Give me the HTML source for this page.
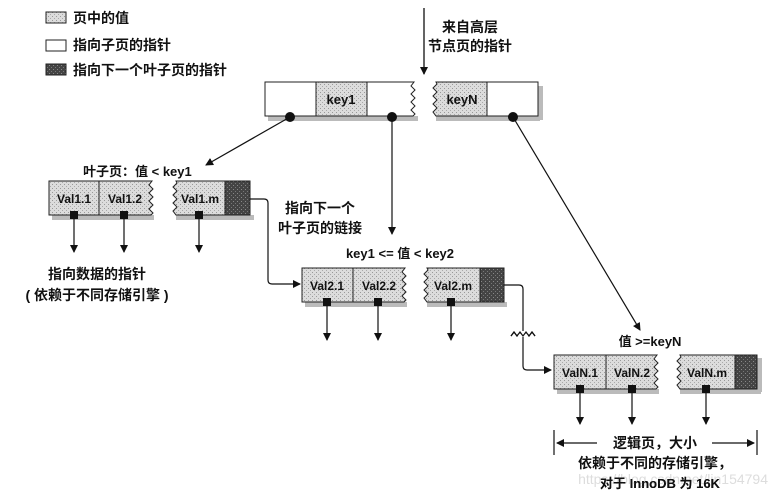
<!DOCTYPE html>
<html><head><meta charset="utf-8"><style>
html,body{margin:0;padding:0;background:#fff;}
svg{display:block;}
text{font-family:"Liberation Sans","Noto Sans CJK SC",sans-serif;font-weight:bold;fill:#111;}
</style></head><body>
<svg width="771" height="496" viewBox="0 0 771 496" xmlns="http://www.w3.org/2000/svg">
<defs>
<pattern id="g" width="4" height="4" patternUnits="userSpaceOnUse"><rect width="4" height="4" fill="#dcdcdc"/><rect x="0" y="0" width="1" height="1" fill="#999"/><rect x="2" y="2" width="1" height="1" fill="#aaa"/></pattern>
<pattern id="d" width="4" height="4" patternUnits="userSpaceOnUse"><rect width="4" height="4" fill="#444"/><rect x="1" y="1" width="1" height="1" fill="#888"/><rect x="3" y="3" width="1" height="1" fill="#777"/></pattern>
<marker id="a" markerWidth="8" markerHeight="8" refX="7" refY="4" orient="auto" markerUnits="userSpaceOnUse"><path d="M0,0 L8,4 L0,8 z" fill="#111"/></marker>
</defs>
<!-- legend -->
<rect x="46" y="12" width="20" height="11" fill="url(#g)" stroke="#222"/>
<rect x="46" y="40" width="20" height="11" fill="#fff" stroke="#222"/>
<rect x="46" y="64" width="20" height="11" fill="url(#d)" stroke="#222"/>
<text x="73" y="23" font-size="14">页中的值</text>
<text x="73" y="50" font-size="14">指向子页的指针</text>
<text x="73" y="75" font-size="14">指向下一个叶子页的指针</text>
<!-- top arrow -->
<line x1="424" y1="8" x2="424" y2="74" stroke="#111" stroke-width="1.3" marker-end="url(#a)"/>
<text x="470" y="32" font-size="14" text-anchor="middle">来自高层</text>
<text x="470" y="51" font-size="14" text-anchor="middle">节点页的指针</text>
<!-- root -->
<rect x="268" y="116" width="150" height="5" fill="#bbb"/><rect x="436" y="116" width="104" height="5" fill="#bbb"/><rect x="538" y="86" width="5" height="34" fill="#bbb"/>
<rect x="265" y="82" width="51" height="34" fill="#fff" stroke="#222"/>
<rect x="316" y="82" width="51" height="34" fill="url(#g)" stroke="#222"/>
<path d="M367,82 H414 l-3,4 4,4 -4,4 4,4 -4,4 4,4 -4,4 4,4 -2,2 H367 z" fill="#fff" stroke="#222"/>
<path d="M436,82 H487 V116 H436 l-3,-4 4,-4 -4,-4 4,-4 -4,-4 4,-4 -4,-4 4,-4 z" fill="url(#g)" stroke="#222"/>
<rect x="487" y="82" width="51" height="34" fill="#fff" stroke="#222"/>
<text x="341" y="104" font-size="13" text-anchor="middle">key1</text>
<text x="462" y="104" font-size="13" text-anchor="middle">keyN</text>
<circle cx="290" cy="117" r="5" fill="#111"/><circle cx="392" cy="117" r="5" fill="#111"/><circle cx="513" cy="117" r="5" fill="#111"/>
<line x1="290" y1="117" x2="206" y2="165" stroke="#111" stroke-width="1.2" marker-end="url(#a)"/>
<line x1="392" y1="117" x2="392" y2="234" stroke="#111" stroke-width="1.2" marker-end="url(#a)"/>
<line x1="513" y1="117" x2="640" y2="330" stroke="#111" stroke-width="1.2" marker-end="url(#a)"/>
<!-- leaf1 -->
<text x="83" y="176" font-size="13">叶子页：值 &lt; key1</text>
<rect x="52" y="215" width="102" height="5" fill="#bbb"/><rect x="176" y="215" width="78" height="5" fill="#bbb"/>
<rect x="49" y="181" width="50" height="34" fill="url(#g)" stroke="#222"/>
<path d="M99,181 H152 l-3,4 4,4 -4,4 4,4 -4,4 4,4 -4,4 4,4 -2,2 H99 z" fill="url(#g)" stroke="#222"/>
<path d="M176,181 H225 V215 H176 l-3,-4 4,-4 -4,-4 4,-4 -4,-4 4,-4 -4,-4 4,-4 z" fill="url(#g)" stroke="#222"/>
<rect x="225" y="181" width="25" height="34" fill="url(#d)" stroke="#222"/>
<text x="74" y="203" font-size="12" text-anchor="middle">Val1.1</text>
<text x="125" y="203" font-size="12" text-anchor="middle">Val1.2</text>
<text x="200" y="203" font-size="12" text-anchor="middle">Val1.m</text>
<g fill="#111"><rect x="70" y="211" width="8" height="8"/><rect x="120" y="211" width="8" height="8"/><rect x="195" y="211" width="8" height="8"/></g>
<g stroke="#111" stroke-width="1.2"><line x1="74" y1="219" x2="74" y2="252" marker-end="url(#a)"/><line x1="124" y1="219" x2="124" y2="252" marker-end="url(#a)"/><line x1="199" y1="219" x2="199" y2="252" marker-end="url(#a)"/></g>
<text x="97" y="279" font-size="14" text-anchor="middle">指向数据的指针</text>
<text x="97" y="300" font-size="14" text-anchor="middle">( 依赖于不同存储引擎 )</text>
<path d="M250,199 H264 q4,0 4,4 V280 q0,4 4,4 H300" fill="none" stroke="#111" stroke-width="1.2" marker-end="url(#a)"/>
<text x="285" y="213" font-size="14">指向下一个</text>
<text x="278" y="233" font-size="14">叶子页的链接</text>
<!-- leaf2 -->
<text x="400" y="258" font-size="13" text-anchor="middle">key1 &lt;= 值 &lt; key2</text>
<rect x="305" y="302" width="102" height="5" fill="#bbb"/><rect x="427" y="302" width="80" height="5" fill="#bbb"/>
<rect x="302" y="268" width="51" height="34" fill="url(#g)" stroke="#222"/>
<path d="M353,268 H405 l-3,4 4,4 -4,4 4,4 -4,4 4,4 -4,4 4,4 -2,2 H353 z" fill="url(#g)" stroke="#222"/>
<path d="M427,268 H480 V302 H427 l-3,-4 4,-4 -4,-4 4,-4 -4,-4 4,-4 -4,-4 4,-4 z" fill="url(#g)" stroke="#222"/>
<rect x="480" y="268" width="24" height="34" fill="url(#d)" stroke="#222"/>
<text x="327" y="290" font-size="12" text-anchor="middle">Val2.1</text>
<text x="379" y="290" font-size="12" text-anchor="middle">Val2.2</text>
<text x="453" y="290" font-size="12" text-anchor="middle">Val2.m</text>
<g fill="#111"><rect x="323" y="298" width="8" height="8"/><rect x="374" y="298" width="8" height="8"/><rect x="447" y="298" width="8" height="8"/></g>
<g stroke="#111" stroke-width="1.2"><line x1="327" y1="306" x2="327" y2="340" marker-end="url(#a)"/><line x1="378" y1="306" x2="378" y2="340" marker-end="url(#a)"/><line x1="451" y1="306" x2="451" y2="340" marker-end="url(#a)"/></g>
<path d="M504,285 H519 q4,0 4,4 V366 q0,4 4,4 H551" fill="none" stroke="#111" stroke-width="1.2" marker-end="url(#a)"/>
<path d="M511,336 l3,-4 3,4 3,-4 3,4 3,-4 3,4 3,-4 3,4" fill="none" stroke="#111" stroke-width="1.2"/>
<rect x="518" y="331" width="10" height="6" fill="#fff"/>
<path d="M511,336 l3,-4 3,4 3,-4 3,4 3,-4 3,4 3,-4 3,4" fill="none" stroke="#111" stroke-width="1.2"/>
<!-- leaf3 -->
<text x="650" y="346" font-size="13" text-anchor="middle">值 &gt;=keyN</text>
<rect x="557" y="389" width="102" height="5" fill="#bbb"/><rect x="680" y="389" width="81" height="5" fill="#bbb"/><rect x="757" y="358" width="5" height="34" fill="#bbb"/>
<rect x="554" y="355" width="52" height="34" fill="url(#g)" stroke="#222"/>
<path d="M606,355 H657 l-3,4 4,4 -4,4 4,4 -4,4 4,4 -4,4 4,4 -2,2 H606 z" fill="url(#g)" stroke="#222"/>
<path d="M680,355 H735 V389 H680 l-3,-4 4,-4 -4,-4 4,-4 -4,-4 4,-4 -4,-4 4,-4 z" fill="url(#g)" stroke="#222"/>
<rect x="735" y="355" width="22" height="34" fill="url(#d)" stroke="#222"/>
<text x="580" y="377" font-size="12" text-anchor="middle">ValN.1</text>
<text x="632" y="377" font-size="12" text-anchor="middle">ValN.2</text>
<text x="707" y="377" font-size="12" text-anchor="middle">ValN.m</text>
<g fill="#111"><rect x="576" y="385" width="8" height="8"/><rect x="628" y="385" width="8" height="8"/><rect x="702" y="385" width="8" height="8"/></g>
<g stroke="#111" stroke-width="1.2"><line x1="580" y1="393" x2="580" y2="424" marker-end="url(#a)"/><line x1="632" y1="393" x2="632" y2="424" marker-end="url(#a)"/><line x1="706" y1="393" x2="706" y2="424" marker-end="url(#a)"/></g>
<g stroke="#111" stroke-width="1.2"><line x1="554" y1="430" x2="554" y2="455"/><line x1="757" y1="430" x2="757" y2="455"/>
<line x1="597" y1="443" x2="557" y2="443" marker-end="url(#a)"/><line x1="712" y1="443" x2="754" y2="443" marker-end="url(#a)"/></g>
<text x="655" y="448" font-size="14" text-anchor="middle">逻辑页，大小</text>
<text x="655" y="468" font-size="14" text-anchor="middle">依赖于不同的存储引擎，</text>
<text x="660" y="488" font-size="13" text-anchor="middle">对于 InnoDB 为 16K</text>
<text x="768" y="484" font-size="14" text-anchor="end" style="fill:#ddd;font-weight:normal">https://blog.csdn.net/lin154794</text>
<text x="660" y="488" font-size="13" text-anchor="middle">对于 InnoDB 为 16K</text>
</svg>
</body></html>
